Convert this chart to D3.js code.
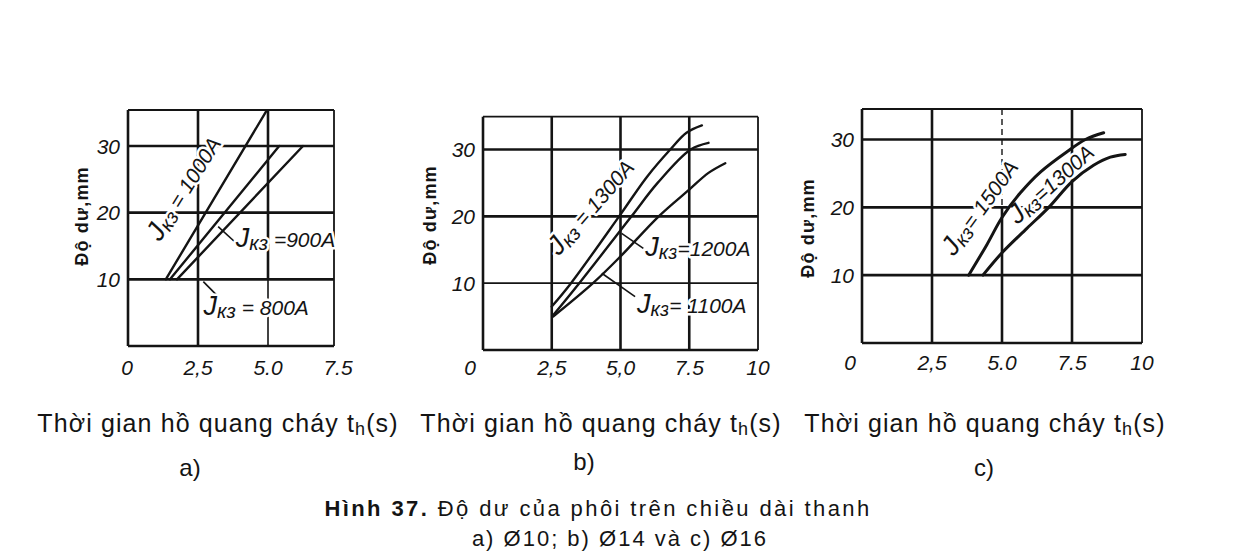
<!DOCTYPE html>
<html><head><meta charset="utf-8">
<script src="https://cdn.jsdelivr.net/npm/d3@7"></script>
<style>
body{margin:0;background:#fff;}
svg{display:block;background:#fff;}
</style></head><body>
<svg id="chart" width="1237" height="558"></svg>
<script>
// ---------- data ----------
const yTicks = [10, 20, 30];
const yTickLabels = ["10", "20", "30"];

const xTicksA = [0, 2.5, 5, 7.5];
const xTickLabelsA = ["0", "2,5", "5.0", "7.5"];
const xTicksB = [0, 2.5, 5, 7.5, 10];
const xTickLabelsB = ["0", "2,5", "5,0", "7.5", "10"];
const xTicksC = [0, 2.5, 5, 7.5, 10];
const xTickLabelsC = ["0", "2,5", "5.0", "7.5", "10"];

// panel a) Ø10  (straight lines)
const seriesA = ["1000A", "900A", "800A"];
const a1000_x = [1.35, 4.95];  const a1000_y = [10, 35.3];
const a900_x  = [1.5, 5.4];    const a900_y  = [10, 30];
const a800_x  = [1.75, 6.25];  const a800_y  = [10, 30];

// panel b) Ø14
const seriesB = ["1300A", "1200A", "1100A"];
const b1300_x = [2.5, 3.2, 4.95, 5.96, 6.81, 7.4, 7.96];
const b1300_y = [6.5, 10, 20, 25.9, 30, 32.5, 33.6];
const b1200_x = [2.55, 3.5, 5.4, 6.35, 7.55, 8.2];
const b1200_y = [5.2, 10, 20, 25, 30, 31.0];
const b1100_x = [2.55, 4.0, 5.0, 6.39, 7.5, 8.2, 8.81];
const b1100_y = [5.0, 10, 14, 20, 24, 26.5, 27.95];

// panel c) Ø16
const seriesC = ["1500A", "1300A"];
const c1500_x = [3.81, 4.46, 5.0, 5.65, 6.37, 7.32, 7.98, 8.63];
const c1500_y = [10, 14.5, 18.5, 22.1, 25.2, 28.2, 30, 31.0];
const c1300_x = [4.32, 5.0, 5.89, 6.67, 7.5, 8.27, 8.87, 9.4];
const c1300_y = [10, 13.3, 16.9, 20, 23.8, 26.2, 27.4, 27.8];

const yTitle = "Độ dư,mm";
const xTitle = "Thời gian hồ quang cháy t";
const panelLetters = ["a)", "b)", "c)"];
const figTitleBold = "Hình 37.";
const figTitle = " Độ dư của phôi trên chiều dài thanh";
const figSub = "a) Ø10; b) Ø14 và c) Ø16";

// ---------- drawing ----------
const svg = d3.select("#chart");
const INK = "#141414";
const tickFont = "'Liberation Sans', Arial, sans-serif";

function zip(xs, ys) { return xs.map((v, i) => [v, ys[i]]); }

function drawPanel(cfg) {
  const g = svg.append("g");
  const x = d3.scaleLinear().domain(cfg.xDomain).range(cfg.xRange);
  const y = d3.scaleLinear().domain([0, 30]).range(cfg.yRange);
  const L = x(0), R = cfg.frameR, B = y(0), T = cfg.frameT;

  // grid verticals
  cfg.vgrid.forEach(v => {
    v.parts.forEach(p => {
      g.append("line")
        .attr("x1", x(v.at)).attr("x2", x(v.at))
        .attr("y1", p[0] === null ? T : y(p[0]))
        .attr("y2", p[1] === null ? B : y(p[1]))
        .attr("stroke", INK).attr("stroke-width", p[2])
        .attr("stroke-dasharray", p[3] || null);
    });
  });
  // grid horizontals
  yTicks.forEach((t, i) => {
    g.append("line").attr("x1", L).attr("x2", R)
      .attr("y1", y(t)).attr("y2", y(t))
      .attr("stroke", INK).attr("stroke-width", cfg.hw[i]);
  });
  // frame
  g.append("line").attr("x1", L).attr("x2", L).attr("y1", T).attr("y2", B).attr("stroke", INK).attr("stroke-width", 2.6);
  g.append("line").attr("x1", L).attr("x2", R).attr("y1", B).attr("y2", B).attr("stroke", INK).attr("stroke-width", 2.6);
  g.append("line").attr("x1", R).attr("x2", R).attr("y1", T).attr("y2", B).attr("stroke", INK).attr("stroke-width", 1.8);
  g.append("line").attr("x1", L).attr("x2", R).attr("y1", T).attr("y2", T).attr("stroke", INK).attr("stroke-width", 1.8);

  // clip
  const cid = "clip" + cfg.id;
  svg.append("clipPath").attr("id", cid).append("rect")
    .attr("x", L).attr("y", T).attr("width", R - L).attr("height", B - T);

  // annotations (under curves)
  const ann = g.append("g");
  cfg.leaders.forEach(l => {
    ann.append("line").attr("x1", x(l[0])).attr("y1", y(l[1]))
      .attr("x2", x(l[2])).attr("y2", y(l[3]))
      .attr("stroke", INK).attr("stroke-width", 1.6);
  });
  cfg.labels.forEach(lb => {
    const t = ann.append("text")
      .attr("transform", `translate(${x(lb.x)},${y(lb.y)}) rotate(${lb.rot || 0})`)
      .attr("text-anchor", lb.anchor || "start")
      .attr("font-family", tickFont).attr("font-style", "italic")
      .attr("font-size", 21).attr("fill", INK)
      .attr("stroke", "#fff").attr("stroke-width", 5).attr("paint-order", "stroke")
      .attr("stroke-linejoin", "round");
    t.append("tspan").attr("font-size", 27).text("J");
    t.append("tspan").attr("font-size", 20).attr("dy", 3).text("кз");
    t.append("tspan").attr("dy", -3).text(lb.sep + lb.name);
  });

  // curves
  const line = d3.line().x(d => x(d[0])).y(d => y(d[1]))
    .curve(cfg.curve);
  g.append("g").attr("clip-path", `url(#${cid})`)
    .selectAll("path").data(cfg.series).join("path")
    .attr("d", d => line(d)).attr("fill", "none")
    .attr("stroke", INK).attr("stroke-width", cfg.cw)
    .attr("stroke-linecap", "round");

  // tick labels
  cfg.xTicks.forEach((t, i) => {
    g.append("text").attr("x", x(t) + (i === 0 ? cfg.zeroDx : 0)).attr("y", cfg.xLabY)
      .attr("text-anchor", "middle").attr("font-family", tickFont)
      .attr("font-style", "italic").attr("font-size", 21).attr("fill", INK)
      .text(cfg.xLabels[i]);
  });
  yTicks.forEach((t, i) => {
    g.append("text").attr("x", L - 8).attr("y", y(t)).attr("dy", "0.36em")
      .attr("text-anchor", "end").attr("font-family", tickFont)
      .attr("font-style", "italic").attr("font-size", 21).attr("fill", INK)
      .text(yTickLabels[i]);
  });
  // y title
  g.append("text")
    .attr("transform", `translate(${cfg.yTitle[0]},${cfg.yTitle[1]}) rotate(-90)`)
    .attr("text-anchor", "middle").attr("font-family", "'Liberation Sans', Arial, sans-serif")
    .attr("font-weight", "bold").attr("font-size", 18).attr("letter-spacing", 1.2)
    .attr("fill", INK).text(yTitle);
  // x title
  const xt = svg.append("text").attr("x", cfg.capX).attr("y", 432)
    .attr("text-anchor", "middle").attr("font-family", "'Liberation Sans', Arial, sans-serif")
    .attr("font-size", 25).attr("letter-spacing", 1.1).attr("fill", INK);
  xt.append("tspan").text(xTitle);
  xt.append("tspan").attr("font-size", 18).attr("dy", 3).text("h");
  xt.append("tspan").attr("dy", -3).text("(s)");
  svg.append("text").attr("x", cfg.letter[0]).attr("y", cfg.letter[1])
    .attr("text-anchor", "middle").attr("font-family", "'Liberation Sans', Arial, sans-serif")
    .attr("font-size", 24).attr("fill", INK).text(cfg.letterText);
}

drawPanel({
  id: "a", xDomain: [0, 7.5], xRange: [128, 338], yRange: [346, 146],
  frameR: 334, frameT: 110,
  vgrid: [
    { at: 2.5, parts: [[null, 0, 2.6]] },
    { at: 5, parts: [[null, 10, 2.6], [10, 0, 1.6]] }
  ],
  hw: [2.6, 2.6, 2.6],
  series: [zip(a1000_x, a1000_y), zip(a900_x, a900_y), zip(a800_x, a800_y)],
  curve: d3.curveLinear, cw: 2.4,
  leaders: [[3.22, 17.9, 3.82, 15.6], [2.69, 9.65, 3.22, 7.4]],
  labels: [
    { x: 2.25, y: 23.0, rot: -58, anchor: "middle", sep: " = ", name: "1000A" },
    { x: 3.85, y: 14.8, sep: " =", name: "900A" },
    { x: 2.7, y: 4.6, sep: " = ", name: "800A" }
  ],
  xTicks: xTicksA, xLabels: xTickLabelsA, zeroDx: -1, xLabY: 375,
  yTitle: [88, 216], capX: 218, letter: [190, 476], letterText: panelLetters[0]
});

drawPanel({
  id: "b", xDomain: [0, 10], xRange: [483, 758], yRange: [350, 149.5],
  frameR: 758, frameT: 116.7,
  vgrid: [
    { at: 2.5, parts: [[null, 0, 2.6]] },
    { at: 5, parts: [[null, 0, 2.6]] },
    { at: 7.5, parts: [[null, 0, 2.6]] }
  ],
  hw: [1.7, 2.6, 2.6],
  series: [zip(b1300_x, b1300_y), zip(b1200_x, b1200_y), zip(b1100_x, b1100_y)],
  curve: d3.curveCatmullRom.alpha(0.5), cw: 2.4,
  leaders: [[5.04, 17.46, 5.83, 15.2], [4.32, 11.48, 5.53, 7.98]],
  labels: [
    { x: 4.15, y: 20.6, rot: -49, anchor: "middle", sep: " = ", name: "1300A" },
    { x: 5.9, y: 14.1, sep: "=", name: "1200A" },
    { x: 5.6, y: 5.5, sep: "= ", name: "1100A" }
  ],
  xTicks: xTicksB, xLabels: xTickLabelsB, zeroDx: -13, xLabY: 375,
  yTitle: [436, 215], capX: 601, letter: [584, 470], letterText: panelLetters[1]
});

drawPanel({
  id: "c", xDomain: [0, 10], xRange: [862, 1142], yRange: [343, 139.5],
  frameR: 1142, frameT: 109,
  vgrid: [
    { at: 2.5, parts: [[null, 0, 2.6]] },
    { at: 5, parts: [[null, 20, 1.4, "6,4"], [20, 0, 2.6]] },
    { at: 7.5, parts: [[null, 0, 2.6]] }
  ],
  hw: [2.6, 2.6, 2.6],
  series: [zip(c1500_x, c1500_y), zip(c1300_x, c1300_y)],
  curve: d3.curveCatmullRom.alpha(0.5), cw: 3,
  leaders: [],
  labels: [
    { x: 4.45, y: 19.3, rot: -54, anchor: "middle", sep: "= ", name: "1500A" },
    { x: 6.95, y: 22.6, rot: -42, anchor: "middle", sep: "=", name: "1300A" }
  ],
  xTicks: xTicksC, xLabels: xTickLabelsC, zeroDx: -12, xLabY: 370,
  yTitle: [814, 228], capX: 985, letter: [984, 476], letterText: panelLetters[2]
});

// figure title
const ft = svg.append("text").attr("x", 598).attr("y", 516).attr("text-anchor", "middle")
  .attr("font-family", "'Liberation Sans', Arial, sans-serif").attr("font-size", 22)
  .attr("letter-spacing", 2.4).attr("fill", INK);
ft.append("tspan").attr("font-weight", "900").text(figTitleBold);
ft.append("tspan").text(figTitle);
svg.append("text").attr("x", 620).attr("y", 546).attr("text-anchor", "middle")
  .attr("font-family", "'Liberation Sans', Arial, sans-serif").attr("font-size", 22)
  .attr("letter-spacing", 2).attr("fill", INK).text(figSub);
</script>
</body></html>
